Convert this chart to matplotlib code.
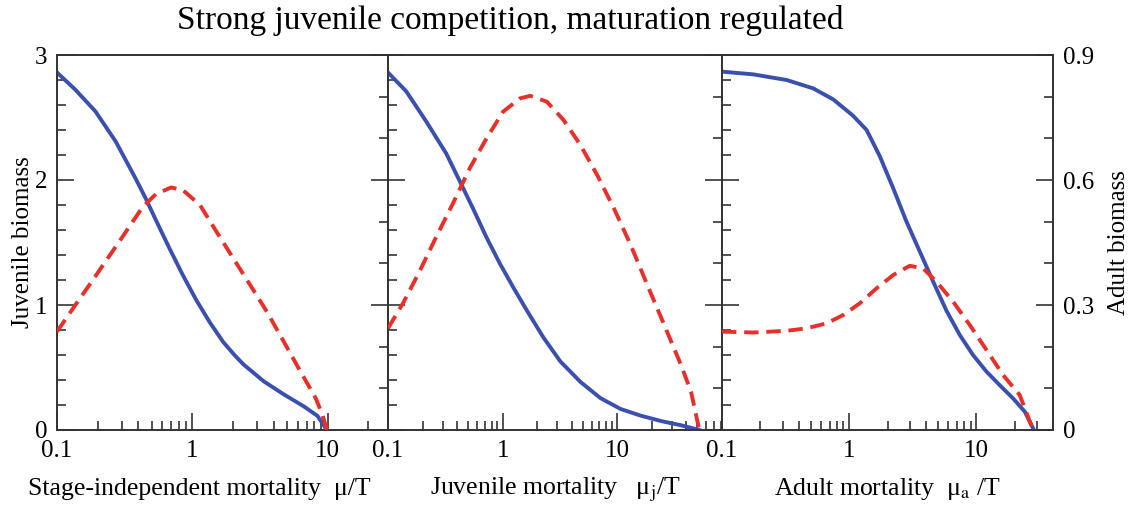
import numpy as np
import matplotlib
matplotlib.use("Agg")
import matplotlib.pyplot as plt
from matplotlib.ticker import LogLocator, MultipleLocator, FixedLocator, NullFormatter, FuncFormatter

plt.rcParams["font.family"] = ["Liberation Serif", "DejaVu Serif"]
plt.rcParams["mathtext.fontset"] = "stix"

# ---------------------------------------------------------------------------
# data (juvenile on left axis, adult on right axis)
# ---------------------------------------------------------------------------

# panel 1: stage-independent mortality
mu_juv_x = [0.1, 0.136, 0.192, 0.271, 0.382, 0.454, 0.538, 0.677, 0.851,
            1.07, 1.35, 1.69, 2.05, 2.39, 3.37, 4.75, 6.70, 8.42, 9.9]
mu_juv = [2.86, 2.725, 2.55, 2.31, 2.01, 1.85, 1.68, 1.455, 1.24, 1.04, 0.86,
          0.705, 0.60, 0.525, 0.39, 0.285, 0.188, 0.113, 0.0]
mu_ad_x = [0.1, 0.136, 0.176, 0.228, 0.304, 0.429, 0.538, 0.697, 0.851,
           1.14, 1.51, 2.01, 2.68, 3.56, 4.75, 6.32, 8.19, 9.18, 9.9]
mu_adult = [0.236, 0.299, 0.351, 0.404, 0.463, 0.535, 0.566, 0.582, 0.576,
            0.54, 0.476, 0.412, 0.348, 0.284, 0.212, 0.14, 0.076, 0.036, 0.0]

# panel 2: juvenile mortality
muj_juv_x = [0.1, 0.144, 0.215, 0.323, 0.423, 0.553, 0.724, 0.948, 1.24,
             1.63, 2.27, 3.18, 4.77, 7.14, 10.7, 16.0, 24.0, 36.0, 52.0]
muj_juv = [2.86, 2.71, 2.47, 2.21, 1.99, 1.77, 1.54, 1.33, 1.14, 0.955,
           0.74, 0.55, 0.385, 0.255, 0.168, 0.115, 0.072, 0.038, 0.0]
muj_ad_x = [0.1, 0.135, 0.188, 0.264, 0.369, 0.516, 0.724, 1.01, 1.42, 1.74,
            2.43, 3.4, 4.77, 6.68, 9.35, 13.1, 18.3, 25.7, 36.0, 44.0, 52.0]
muj_adult = [0.244, 0.304, 0.38, 0.464, 0.544, 0.628, 0.70, 0.764, 0.796,
             0.802, 0.788, 0.744, 0.684, 0.612, 0.532, 0.444, 0.348, 0.252,
             0.156, 0.092, 0.0]

# panel 3: adult mortality
mua_juv_x = [0.1, 0.176, 0.322, 0.521, 0.748, 1.07, 1.37, 1.74, 2.22, 2.82,
             3.59, 4.57, 5.81, 7.4, 9.4, 12.0, 15.2, 19.4, 24.0, 27.9]
mua_juv = [2.867, 2.845, 2.80, 2.733, 2.645, 2.515, 2.40, 2.19, 1.933,
           1.667, 1.427, 1.187, 0.955, 0.76, 0.60, 0.467, 0.36, 0.253, 0.147,
           0.013]
mua_ad_x = [0.1, 0.176, 0.322, 0.462, 0.664, 0.898, 1.21, 1.64, 2.22, 2.99,
            3.81, 4.85, 6.56, 8.87, 12.0, 16.2, 21.9, 27.9]
mua_adult = [0.236, 0.234, 0.238, 0.244, 0.256, 0.276, 0.304, 0.34, 0.372,
             0.394, 0.388, 0.356, 0.308, 0.252, 0.192, 0.132, 0.084, 0.0]

x_limits = [28.0, 82.0, 40.0]
x_labels = ["Stage-independent mortality  μ/T",
            r"Juvenile mortality   μ$_\mathrm{j}$/T",
            r"Adult mortality  μ$_\mathrm{a}$ /T"]
x_label_pos = [0.43, 0.5, 0.5]

series = [
    (mu_juv_x, mu_juv, mu_ad_x, mu_adult),
    (muj_juv_x, muj_juv, muj_ad_x, muj_adult),
    (mua_juv_x, mua_juv, mua_ad_x, mua_adult),
]

BLUE = "#3a4fae"
RED = "#e8302a"

W, H = 1130, 508
fig = plt.figure(figsize=(W / 100, H / 100), dpi=100)

edges = [57, 388, 722, 1053]
top, bottom = 55, 430


def plain(v, pos):
    return "0" if v == 0 else f"{v:g}"


for i, (xj, juv, xa, adult) in enumerate(series):
    ax = fig.add_axes([edges[i] / W, 1 - bottom / H,
                       (edges[i + 1] - edges[i]) / W, (bottom - top) / H])
    ax.set_xscale("log")
    ax.set_xlim(0.1, x_limits[i])
    ax.set_ylim(0, 3)
    ax.plot(xj, juv, color=BLUE, lw=2.8, solid_joinstyle="round", zorder=3)

    ax2 = ax.twinx()
    ax2.set_ylim(0, 0.9)
    ax2.plot(xa, adult, color=RED, lw=2.8, dashes=(3.7, 2.0), zorder=3)

    ax.xaxis.set_major_locator(FixedLocator([0.1, 1, 10]))
    ax.xaxis.set_minor_locator(LogLocator(base=10, subs=np.arange(2, 10)))
    ax.xaxis.set_minor_formatter(NullFormatter())
    ax.xaxis.set_major_formatter(FuncFormatter(plain))

    ax.yaxis.set_major_locator(MultipleLocator(1))
    ax.yaxis.set_minor_locator(MultipleLocator(0.2))
    ax2.yaxis.set_major_locator(MultipleLocator(0.3))
    ax2.yaxis.set_minor_locator(MultipleLocator(0.1))
    ax.yaxis.set_major_formatter(FuncFormatter(plain))
    ax2.yaxis.set_major_formatter(FuncFormatter(plain))

    ax.tick_params(axis="both", which="both", direction="in", top=False,
                   color="#222222", width=1.1, labelsize=18)
    ax.tick_params(axis="both", which="major", length=12, pad=7)
    ax.tick_params(axis="both", which="minor", length=6.5)
    ax2.tick_params(axis="y", which="both", direction="in", color="#222222",
                    width=1.1, labelsize=18)
    ax2.tick_params(axis="y", which="major", length=12, pad=7)
    ax2.tick_params(axis="y", which="minor", length=6.5)

    if i != 0:
        ax.tick_params(axis="y", labelleft=False)
    if i != 2:
        ax2.tick_params(axis="y", labelright=False)

    for a in (ax, ax2):
        for s in a.spines.values():
            s.set_linewidth(1.2)
            s.set_color("#333333")

    ax.set_xlabel(x_labels[i], fontsize=18.5, va="baseline")
    ax.xaxis.set_label_coords(x_label_pos[i], -0.172)
    if i == 0:
        ax.set_ylabel("Juvenile biomass", fontsize=18)
        ax.yaxis.set_label_coords(-0.068, 0.5)
    if i == 2:
        ax2.set_ylabel("Adult biomass", fontsize=18, labelpad=10)

fig.text(510 / W, 1 - 20 / H, "Strong juvenile competition, maturation regulated",
         ha="center", va="center", fontsize=24)

fig.savefig("out.png", dpi=100)
